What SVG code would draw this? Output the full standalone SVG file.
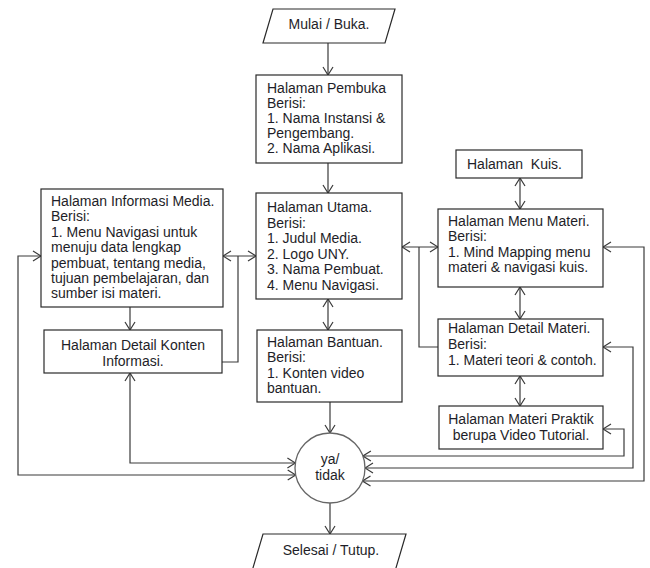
<svg xmlns="http://www.w3.org/2000/svg" width="650" height="568" viewBox="0 0 650 568">
<defs>
<marker id="ah" viewBox="0 0 10 12" markerWidth="10" markerHeight="12" refX="9" refY="6" orient="auto-start-reverse" markerUnits="userSpaceOnUse">
<path d="M1,1 L9,6 L1,11" fill="none" stroke="#3a3a3a" stroke-width="1.2"/>
</marker>
<style>
.box{fill:#fff;stroke:#2a2a2a;stroke-width:1.2}
.circ{fill:#fff;stroke:#666;stroke-width:1.3}
.t{font-family:"Liberation Sans",Arial,sans-serif;font-size:14px;fill:#1e1e28}
.c{text-anchor:middle}
.ln{fill:none;stroke:#3a3a3a;stroke-width:1.2}
.e{marker-end:url(#ah)}
.b{marker-start:url(#ah);marker-end:url(#ah)}
</style>
</defs>
<rect width="650" height="568" fill="#fff"/>

<g id="connectors">
<path class="ln e" d="M328,43 V75"/>
<path class="ln e" d="M328,163 V193"/>
<path class="ln b" d="M328,299 V330"/>
<path class="ln e" d="M330,402 V433"/>
<path class="ln e" d="M330,503 V534"/>
<path class="ln b" d="M223,256 H256"/>
<path class="ln" d="M238,256 V362 H222"/>
<path class="ln e" d="M130,307 V330"/>
<path class="ln b" d="M41,256 H18 V475 H295.7"/>
<path class="ln b" d="M130,373 V463 H295.4"/>
<path class="ln b" d="M402,247 H438"/>
<path class="ln" d="M419,247 V347 H438"/>
<path class="ln b" d="M520,178 V209"/>
<path class="ln b" d="M520,287 V319"/>
<path class="ln b" d="M520,376 V406"/>
<path class="ln b" d="M603,429 H624 V456 H362.9"/>
<path class="ln b" d="M603,347 H633 V468 H365"/>
<path class="ln b" d="M603,247 H644 V481 H362.5"/>
</g>

<g id="mulai">
<polygon class="box" points="273,9 395,9 385,43 263,43"/>
<text class="t c" x="329" y="29">Mulai / Buka.</text>
</g>

<g id="pembuka">
<rect class="box" x="256" y="75" width="146" height="88"/>
<text class="t" x="267" y="93">Halaman Pembuka</text>
<text class="t" x="267" y="108">Berisi:</text>
<text class="t" x="267" y="123">1. Nama Instansi &amp;</text>
<text class="t" x="267" y="138">Pengembang.</text>
<text class="t" x="267" y="153">2. Nama Aplikasi.</text>
</g>

<g id="utama">
<rect class="box" x="256" y="193" width="146" height="106"/>
<text class="t" x="267" y="212">Halaman Utama.</text>
<text class="t" x="267" y="227.5">Berisi:</text>
<text class="t" x="267" y="243">1. Judul Media.</text>
<text class="t" x="267" y="258.5">2. Logo UNY.</text>
<text class="t" x="267" y="274">3. Nama Pembuat.</text>
<text class="t" x="267" y="289.5">4. Menu Navigasi.</text>
</g>

<g id="bantuan">
<rect class="box" x="257" y="330" width="145" height="72"/>
<text class="t" x="267" y="347">Halaman Bantuan.</text>
<text class="t" x="267" y="362">Berisi:</text>
<text class="t" x="267" y="378">1. Konten video</text>
<text class="t" x="267" y="393">bantuan.</text>
</g>

<g id="informasi">
<rect class="box" x="41" y="189" width="182" height="118"/>
<text class="t" x="51" y="206">Halaman Informasi Media.</text>
<text class="t" x="51" y="221.4">Berisi:</text>
<text class="t" x="51" y="236.8">1. Menu Navigasi untuk</text>
<text class="t" x="51" y="252.2">menuju data lengkap</text>
<text class="t" x="51" y="267.6">pembuat, tentang media,</text>
<text class="t" x="51" y="283">tujuan pembelajaran, dan</text>
<text class="t" x="51" y="298.4">sumber isi materi.</text>
</g>

<g id="detail-konten">
<rect class="box" x="44" y="330" width="178" height="43"/>
<text class="t c" x="133" y="350">Halaman Detail Konten</text>
<text class="t c" x="133" y="366">Informasi.</text>
</g>

<g id="kuis">
<rect class="box" x="456" y="150" width="126" height="28"/>
<text class="t" x="467" y="169" style="white-space:pre">Halaman  Kuis.</text>
</g>

<g id="menu-materi">
<rect class="box" x="438" y="209" width="165" height="78"/>
<text class="t" x="448" y="226">Halaman Menu Materi.</text>
<text class="t" x="448" y="241.3">Berisi:</text>
<text class="t" x="448" y="256.6">1. Mind Mapping menu</text>
<text class="t" x="448" y="272">materi &amp; navigasi kuis.</text>
</g>

<g id="detail-materi">
<rect class="box" x="438" y="319" width="165" height="57"/>
<text class="t" x="448" y="333">Halaman Detail Materi.</text>
<text class="t" x="448" y="349">Berisi:</text>
<text class="t" x="448" y="365">1. Materi teori &amp; contoh.</text>
</g>

<g id="praktik">
<rect class="box" x="439" y="406" width="164" height="43"/>
<text class="t c" x="521" y="424">Halaman Materi Praktik</text>
<text class="t c" x="521" y="440">berupa Video Tutorial.</text>
</g>

<g id="keputusan">
<circle class="circ" cx="330" cy="468" r="35"/>
<text class="t c" x="330" y="464">ya/</text>
<text class="t c" x="330" y="480">tidak</text>
</g>

<g id="selesai">
<polygon class="box" points="263,534 406,534 393,578 250,578"/>
<text class="t c" x="331" y="555">Selesai / Tutup.</text>
</g>
</svg>
